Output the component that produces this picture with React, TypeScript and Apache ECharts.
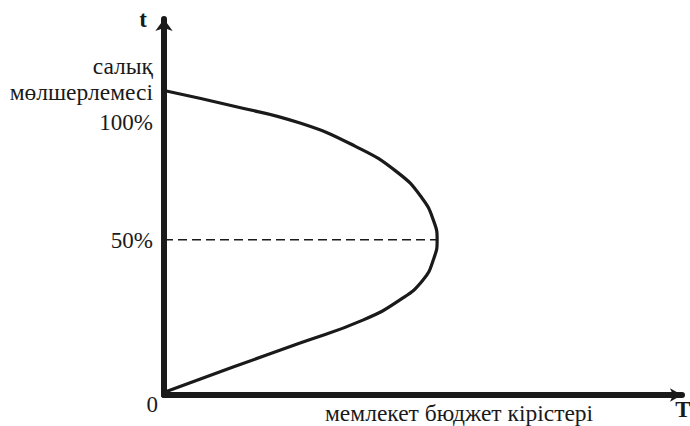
import React, { useEffect, useRef } from "react";
import * as echarts from "echarts";

// Laffer curve: x = state budget revenue (arbitrary units), y = tax rate (arbitrary units)
const curveX = [0, 13.2, 26.0, 36.5, 44.5, 49.3, 51.6, 52.2, 51.6, 49.5, 45.1, 38.0, 26.0, 13.2, 0.2];
const curveY = [98.0, 93.0, 87.5, 80.1, 71.8, 63.4, 55.7, 49.9, 44.1, 37.0, 30.6, 24.1, 16.7, 9.0, 1.0];
const peakX = 52.2;
const halfRate = 50;
const yTitleLines = ["салық", "мөлшерлемесі"];
const tickLabels = ["100%", "50%", "0"];
const xTitle = "мемлекет бюджет кірістері";
const xSymbol = "T";
const ySymbol = "t";

const FONT = "'Liberation Serif', 'Times New Roman', serif";
const INK = "#1a1a1a";

export default function App() {
  const ref = useRef<HTMLDivElement>(null);
  useEffect(() => {
    if (!ref.current) return;
    const chart = echarts.init(ref.current, null, { renderer: "svg" });
    const curve = curveX.map((x, i) => [x, curveY[i]]);
    const txt = (text: string, x: number, y: number, align: string, bold = false, size = 23.5) => ({
      type: "text",
      x,
      y,
      style: {
        text,
        fill: INK,
        fontFamily: FONT,
        fontSize: size,
        fontWeight: bold ? "bold" : "normal",
        align,
        verticalAlign: "middle",
      },
    });
    chart.setOption({
      animation: false,
      backgroundColor: "#ffffff",
      grid: { left: 164, right: 8, top: 19, bottom: 31, containLabel: false },
      xAxis: {
        type: "value",
        min: 0,
        max: 99,
        axisLine: {
          show: true,
          symbol: ["none", "arrow"],
          symbolSize: [10, 12],
          lineStyle: { color: INK, width: 6 },
        },
        axisTick: { show: false },
        axisLabel: { show: false },
        splitLine: { show: false },
      },
      yAxis: {
        type: "value",
        min: 0,
        max: 121,
        axisLine: {
          show: true,
          symbol: ["none", "arrow"],
          symbolSize: [13, 12],
          lineStyle: { color: INK, width: 6 },
        },
        axisTick: { show: false },
        axisLabel: { show: false },
        splitLine: { show: false },
      },
      series: [
        {
          type: "line",
          data: [[0, halfRate], [peakX, halfRate]],
          symbol: "none",
          lineStyle: { color: INK, width: 1.5, type: [9, 5] },
          z: 1,
        },
        {
          type: "line",
          data: curve,
          symbol: "none",
          smooth: 0.5,
          lineStyle: { color: INK, width: 3.2 },
          z: 2,
        },
      ],
      graphic: [
        txt(ySymbol, 147, 19, "right", true, 23),
        txt(yTitleLines[0], 153, 66, "right"),
        txt(yTitleLines[1], 153, 92, "right"),
        txt(tickLabels[0], 153, 122, "right", false, 23),
        txt(tickLabels[1], 153, 240, "right", false, 23),
        txt(tickLabels[2], 158, 404, "right", false, 23),
        txt(xTitle, 325, 413, "left"),
        txt(xSymbol, 683, 409, "center", true, 23),
      ],
    });
    return () => chart.dispose();
  }, []);
  return (
    <div
      ref={ref}
      style={{ position: "fixed", left: 0, top: 0, width: 690, height: 426, background: "#fff" }}
    />
  );
}
